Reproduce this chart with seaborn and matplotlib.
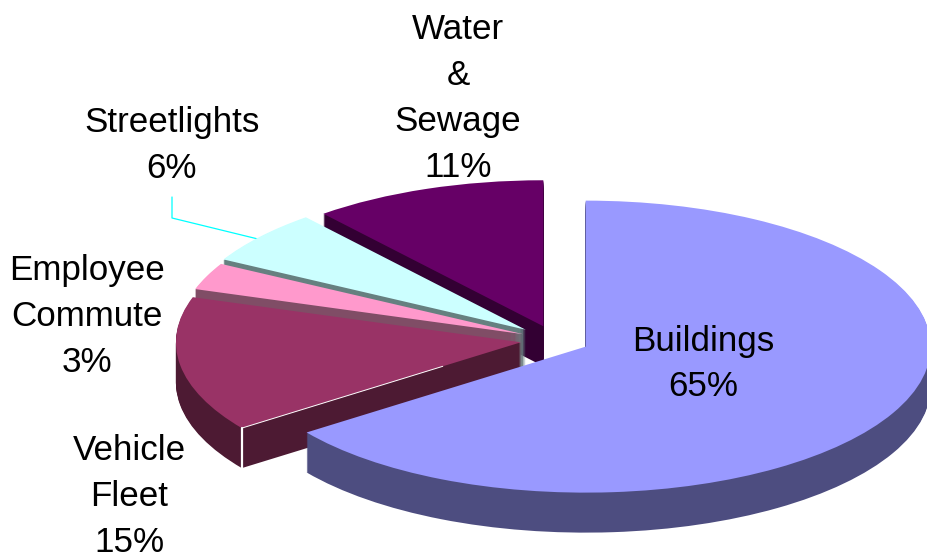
import matplotlib
matplotlib.use("Agg")
import matplotlib.pyplot as plt
import numpy as np
import seaborn as sns

sources = ['Buildings', 'Vehicle\nFleet', 'Employee\nCommute', 'Streetlights', 'Water\n&\nSewage']
shares = [65, 15, 3, 6, 11]
top_colors = ['#9999FF', '#993366', '#FF99CC', '#CCFFFF', '#660066']

W, H = 927, 559
# pie centre and radii on the picture, pixels
cx, cy, rx, ry = 555, 340, 345, 146
depth_px = 40
n_layers = 40
explode = [0.1, 0.1, 0.1, 0.11, 0.1]

# back to front, so the nearer slices cover the sides of the others
draw_rank = [4, 3, 2, 1, 0]

label_pos = [(703, 364), (129, 497), (87, 316.5), (172, 146), (458, 98.5)]

sns.set_theme(style="white")
plt.rcParams['font.family'] = ['Liberation Sans', 'DejaVu Sans']

palette = sns.color_palette(top_colors)
side_colors = [tuple(np.array(c) * 0.5) for c in palette]

fig = plt.figure(figsize=(W / 100, H / 100), dpi=100)
ax = fig.add_axes([0, 0, 1, 1])

depth = depth_px / ry
for layer in range(n_layers + 1):
    offset = depth * (n_layers - layer) / n_layers
    colors = palette if layer == n_layers else side_colors
    wedges, _ = ax.pie(shares, explode=explode, colors=colors, startangle=90,
                       counterclock=False, center=(0, -offset),
                       wedgeprops=dict(linewidth=0.3, edgecolor='none'))
    for w, rank in zip(wedges, draw_rank):
        w.set_zorder(2 + rank + layer / (n_layers + 1))
    top_wedges = wedges

ax.set_aspect('auto')
ax.set_xlim((0 - cx) / rx, (W - cx) / rx)
ax.set_ylim((cy - H) / ry, cy / ry)
ax.set_axis_off()

# thin white highlight on the near corner of the vehicle slice
fleet = top_wedges[1]
a = np.deg2rad(fleet.theta2)
corner = np.array([fleet.center[0] + np.cos(a), fleet.center[1] + np.sin(a)])
inner = corner + 0.72 * (np.array(fleet.center) - corner)
ax.plot([inner[0], corner[0]], [inner[1], corner[1]], color='white', lw=0.7, zorder=5.99)
ax.plot([corner[0], corner[0]], [corner[1], corner[1] - depth], color='white', lw=1.6, zorder=5.99)


def fig_xy(x, y):
    return x / W, 1 - y / H


leader_x, leader_y = zip(*[fig_xy(172, 197), fig_xy(172, 218), fig_xy(262, 240)])
ax.plot(leader_x, leader_y, color='#00FFFF', lw=0.9, transform=fig.transFigure, zorder=1)

for name, share, (x, y) in zip(sources, shares, label_pos):
    tx, ty = fig_xy(x, y)
    ax.text(tx, ty, f"{name}\n{share}%", transform=fig.transFigure, ha='center', va='center',
            fontsize=25.2, linespacing=1.5, color='black', zorder=10)

fig.savefig('out.png', dpi=100, facecolor='white')
